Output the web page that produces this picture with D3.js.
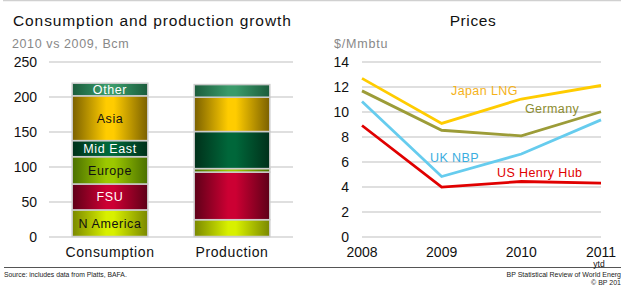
<!DOCTYPE html>
<html>
<head>
<meta charset="utf-8">
<script src="https://cdn.jsdelivr.net/npm/d3@7"></script>
<style>
body{margin:0;background:#fff;}
text{font-family:"Liberation Sans",Arial,sans-serif;}
</style>
</head>
<body>
<script>
// left chart data (Bcm, 2010 vs 2009)
var bars = ['Consumption','Production'];
var regions = ['N America','FSU','Europe','Mid East','Asia','Other'];
var consumption = [38,37,39,23,64,18];
var production = [24,68,5,53,49,18];
var bright = ['#d8f000','#cc0033','#9cc800','#00673a','#ffcc00','#3a9a6a'];
var dark = ['#7a8800','#5e0018','#4a7000','#00301a','#7a6000','#1b5c3c'];
var labelColor = ['#111','#fff','#111','#fff','#111','#fff'];
var leftTicks = [0,50,100,150,200,250];

// right chart data ($/Mmbtu)
var years = ['2008','2009','2010','2011'];
var japanLNG = [12.65,9.05,11.0,12.08];
var germany = [11.65,8.5,8.05,9.98];
var ukNBP = [10.8,4.8,6.6,9.33];
var usHenryHub = [8.88,3.95,4.4,4.27];
var rightTicks = [0,2,4,6,8,10,12,14];

var W = 621, H = 286;
var svg = d3.select('body').append('svg').attr('width',W).attr('height',H);
var defs = svg.append('defs');

bright.forEach(function(c,i){
	var g = defs.append('linearGradient').attr('id','grad'+i)
		.attr('x1','0%').attr('x2','100%').attr('y1','0%').attr('y2','0%');
	g.append('stop').attr('offset','0%').attr('stop-color',dark[i]);
	g.append('stop').attr('offset','45%').attr('stop-color',c);
	g.append('stop').attr('offset','55%').attr('stop-color',c);
	g.append('stop').attr('offset','100%').attr('stop-color',dark[i]);
});

// frame lines
svg.append('line').attr('x1',3).attr('x2',W).attr('y1',0.5).attr('y2',0.5)
	.attr('stroke','#d0d0d0').attr('stroke-width',1.5);
svg.append('line').attr('x1',4).attr('x2',W).attr('y1',267.5).attr('y2',267.5)
	.attr('stroke','#555').attr('stroke-width',1.2);

// ---- left chart ----
svg.append('text').attr('x',13).attr('y',26).attr('font-size',15.5).attr('fill','#111')
	.attr('letter-spacing',0.9).text('Consumption and production growth');
svg.append('text').attr('x',12).attr('y',48).attr('font-size',12.5).attr('fill','#888')
	.attr('letter-spacing',0.6).text('2010 vs 2009, Bcm');

var yL = d3.scaleLinear().domain([0,250]).range([236.5,61.5]);
var xL = d3.scaleBand().domain(bars).range([49,293]).paddingInner(0.38).paddingOuter(0.19);

var gL = svg.append('g');
gL.selectAll('line.grid').data(leftTicks).enter().append('line')
	.attr('x1',49).attr('x2',293)
	.attr('y1',function(d){return yL(d)+0.5;}).attr('y2',function(d){return yL(d)+0.5;})
	.attr('stroke','#d4d4d4').attr('stroke-width',1.5);
gL.selectAll('text.tick').data(leftTicks).enter().append('text')
	.attr('x',37).attr('y',function(d){return yL(d)+5;})
	.attr('text-anchor','end').attr('font-size',14).attr('fill','#111')
	.text(function(d){return d;});

[consumption,production].forEach(function(vals,bi){
	var base = 0;
	var x0 = xL(bars[bi]), bw = xL.bandwidth();
	vals.forEach(function(v,i){
		var y0 = yL(base), y1 = yL(base+v);
		gL.append('rect').attr('x',x0).attr('y',y1).attr('width',bw).attr('height',y0-y1)
			.attr('fill','url(#grad'+i+')').attr('stroke','#cccccc').attr('stroke-width',1.5);
		if(bi===0){
			gL.append('text').attr('x',x0+bw/2).attr('y',(y0+y1)/2+4.5)
				.attr('text-anchor','middle').attr('font-size',12.5)
				.attr('fill',labelColor[i]).attr('letter-spacing',0.6).text(regions[i]);
		}
		base += v;
	});
	gL.append('text').attr('x',x0+bw/2).attr('y',257).attr('text-anchor','middle')
		.attr('font-size',14).attr('fill','#111').attr('letter-spacing',0.6).text(bars[bi]);
});

svg.append('text').attr('x',4).attr('y',277).attr('font-size',6.8).attr('fill','#222')
	.text('Source: includes data from Platts, BAFA.');

// ---- right chart ----
svg.append('text').attr('x',473).attr('y',26).attr('text-anchor','middle').attr('font-size',15.5)
	.attr('fill','#111').attr('letter-spacing',0.6).text('Prices');
svg.append('text').attr('x',334).attr('y',48).attr('font-size',12.5).attr('fill','#888')
	.attr('letter-spacing',0.8).text('$/Mmbtu');

var yR = d3.scaleLinear().domain([0,14]).range([236.5,61.5]);
var xR = d3.scalePoint().domain(years).range([362,601]);

var gR = svg.append('g');
gR.selectAll('line.grid').data(rightTicks).enter().append('line')
	.attr('x1',362).attr('x2',601)
	.attr('y1',function(d){return yR(d)+0.5;}).attr('y2',function(d){return yR(d)+0.5;})
	.attr('stroke','#d4d4d4').attr('stroke-width',1.5);
gR.selectAll('text.tick').data(rightTicks).enter().append('text')
	.attr('x',349).attr('y',function(d){return yR(d)+5;})
	.attr('text-anchor','end').attr('font-size',14).attr('fill','#111')
	.text(function(d){return d;});
gR.selectAll('text.year').data(years).enter().append('text')
	.attr('x',function(d){return xR(d);}).attr('y',257).attr('text-anchor','middle')
	.attr('font-size',14).attr('fill','#111').text(function(d){return d;});
gR.append('text').attr('x',xR('2011')-2).attr('y',266.5).attr('text-anchor','middle')
	.attr('font-size',8.5).attr('fill','#111').text('ytd');

var line = d3.line().x(function(d,i){return xR(years[i]);}).y(function(d){return yR(d);});
var series = [
	{name:'Japan LNG', vals:japanLNG, color:'#ffcc00', label:'#f5b21a', lx:451, ly:95},
	{name:'Germany', vals:germany, color:'#9c9c38', label:'#8c8c30', lx:525, ly:113},
	{name:'UK NBP', vals:ukNBP, color:'#66ccee', label:'#3aaee0', lx:430, ly:162},
	{name:'US Henry Hub', vals:usHenryHub, color:'#e00000', label:'#e00000', lx:497, ly:177}
];
series.forEach(function(s){
	gR.append('path').attr('d',line(s.vals)).attr('fill','none')
		.attr('stroke',s.color).attr('stroke-width',2.8).attr('stroke-linejoin','miter');
	gR.append('text').attr('x',s.lx).attr('y',s.ly).attr('font-size',12.5)
		.attr('fill',s.label).attr('letter-spacing',0.4).text(s.name);
});

svg.append('text').attr('x',W).attr('y',277).attr('text-anchor','end').attr('font-size',7)
	.attr('fill','#222').text('BP Statistical Review of World Energ');
svg.append('text').attr('x',W).attr('y',285).attr('text-anchor','end').attr('font-size',7)
	.attr('fill','#222').text('© BP 201');
</script>
</body>
</html>
